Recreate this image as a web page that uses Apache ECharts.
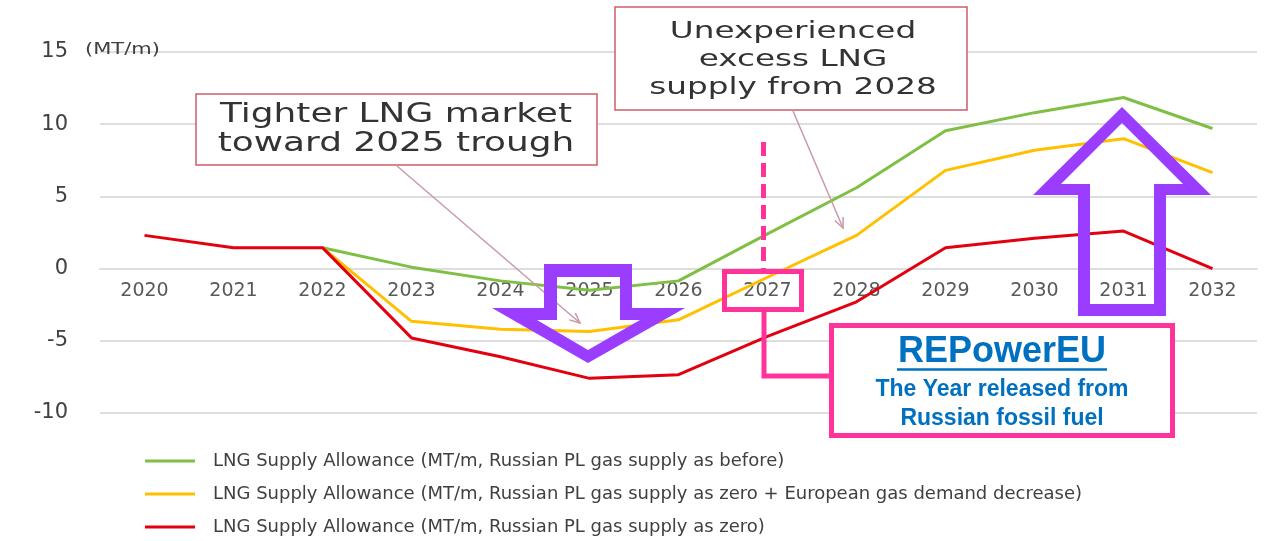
<!DOCTYPE html>
<html lang="en">
<head>
<meta charset="UTF-8">
<title>LNG Supply Allowance</title>
<style>
  html, body { margin: 0; height: 100%; overflow: hidden; background: #fff; }
  #main { width: 1273px; height: 541px; }
</style>
</head>
<body>
<div id="main"></div>
<script src="https://cdn.jsdelivr.net/npm/echarts@6/dist/echarts.min.js"></script>
<script>
// categories (years)
const years = ['2020', '2021', '2022', '2023', '2024', '2025', '2026', '2027', '2028', '2029', '2030', '2031', '2032'];
// MT/m
const asBefore = [null, null, 1.45, 0.1, -0.85, -1.5, -0.85, 2.4, 5.6, 9.55, 10.8, 11.85, 9.7];
const zeroPlusDecrease = [null, null, 1.45, -3.65, -4.2, -4.35, -3.55, -0.6, 2.3, 6.8, 8.2, 9.0, 6.65];
const zeroSupply = [2.3, 1.45, 1.45, -4.8, -6.1, -7.6, -7.35, -4.7, -2.3, 1.45, 2.1, 2.6, 0];
const seriesNames = [
  'LNG Supply Allowance (MT/m, Russian PL gas supply as before)',
  'LNG Supply Allowance (MT/m, Russian PL gas supply as zero + European gas demand decrease)',
  'LNG Supply Allowance (MT/m, Russian PL gas supply as zero)'
];
const yTicks = { min: -10, max: 15, interval: 5 };

const gridTop = 52, gridBottom = 128, chartH = 541;
const plotH = chartH - gridTop - gridBottom;
// move the category axis up to the zero line
const zeroOffset = (0 - yTicks.min) / (yTicks.max - yTicks.min) * plotH;

const pink = '#ff3399';
const purple = '#9b3dff';
const noteLine = '#c99aa3';

// small open arrow head at the end of a callout line
function arrowHead(x1, y1, x2, y2) {
  const a = Math.atan2(y2 - y1, x2 - x1), len = 11, sp = 0.42;
  return [
    [x2 - len * Math.cos(a - sp), y2 - len * Math.sin(a - sp)],
    [x2, y2],
    [x2 - len * Math.cos(a + sp), y2 - len * Math.sin(a + sp)]
  ];
}

// hollow block arrow: outer outline, then inner outline backwards (keyhole polygon)
function hollow(outer, inner) {
  const back = inner.slice(1).reverse();
  return outer.concat([outer[0], inner[0]], back, [inner[0]]);
}

var myChart = echarts.init(document.getElementById('main'));

var option = {
  animation: false,
  backgroundColor: '#fff',
  grid: { left: 100, right: 16, top: gridTop, bottom: gridBottom, containLabel: false },
  legend: {
    orient: 'vertical',
    left: 145,
    top: 451,
    padding: 0,
    icon: 'rect',
    itemWidth: 50,
    itemHeight: 3,
    itemGap: 13,
    textStyle: { fontFamily: 'DejaVu Sans', fontSize: 18, color: '#404040', lineHeight: 20, padding: [0, 0, 0, 13] },
    data: seriesNames
  },
  xAxis: {
    type: 'category',
    data: years,
    boundaryGap: true,
    offset: -zeroOffset,
    axisLine: { show: true, onZero: false, lineStyle: { color: '#dedede', width: 2 } },
    axisTick: { show: false },
    axisLabel: { fontFamily: 'DejaVu Sans', fontSize: 19, color: '#595959', margin: 13 }
  },
  yAxis: {
    type: 'value',
    min: yTicks.min,
    max: yTicks.max,
    interval: yTicks.interval,
    axisLine: { show: false },
    axisTick: { show: false },
    axisLabel: { fontFamily: 'DejaVu Sans', fontSize: 21, color: '#404040', margin: 32 },
    splitLine: { show: true, lineStyle: { color: '#dedede', width: 2 } }
  },
  series: [
    { name: seriesNames[0], type: 'line', data: asBefore, symbol: 'none', color: '#7fbf45', lineStyle: { width: 3 } },
    { name: seriesNames[1], type: 'line', data: zeroPlusDecrease, symbol: 'none', color: '#ffc000', lineStyle: { width: 3 } },
    { name: seriesNames[2], type: 'line', data: zeroSupply, symbol: 'none', color: '#e3000f', lineStyle: { width: 3 } }
  ],
  graphic: {
    elements: [
      // unit
      { type: 'text', x: 85, y: 50, scaleX: 1.4, z: 50,
        style: { text: '(MT/m)', font: '15px DejaVu Sans', fill: '#404040', align: 'left', verticalAlign: 'middle' } },

      // callout 1
      { type: 'rect', z: 50, shape: { x: 196, y: 94, width: 401, height: 71 },
        style: { fill: '#fff', stroke: '#d05c68', lineWidth: 1.5 } },
      { type: 'text', x: 396, y: 130, scaleX: 1.38, z: 51,
        style: { text: 'Tighter LNG market\ntoward 2025 trough', font: '26px DejaVu Sans', fill: '#333',
                 align: 'center', verticalAlign: 'middle', lineHeight: 29 } },
      { type: 'line', z: 52, shape: { x1: 397, y1: 166, x2: 580, y2: 323 }, style: { stroke: noteLine, lineWidth: 1.5 } },
      { type: 'polyline', z: 52, shape: { points: arrowHead(397, 166, 580, 323) }, style: { stroke: noteLine, lineWidth: 1.5, fill: null } },

      // callout 2
      { type: 'rect', z: 50, shape: { x: 615, y: 7, width: 352, height: 103 },
        style: { fill: '#fff', stroke: '#d05c68', lineWidth: 1.5 } },
      { type: 'text', x: 793, y: 60, scaleX: 1.42, z: 51,
        style: { text: 'Unexperienced\nexcess LNG\nsupply from 2028', font: '23px DejaVu Sans', fill: '#333',
                 align: 'center', verticalAlign: 'middle', lineHeight: 28 } },
      { type: 'line', z: 52, shape: { x1: 793, y1: 111, x2: 843, y2: 228 }, style: { stroke: noteLine, lineWidth: 1.5 } },
      { type: 'polyline', z: 52, shape: { points: arrowHead(793, 111, 843, 228) }, style: { stroke: noteLine, lineWidth: 1.5, fill: null } },

      // 2027 marker
      { type: 'line', z: 60, shape: { x1: 763.5, y1: 142, x2: 763.5, y2: 269 },
        style: { stroke: pink, lineWidth: 5, lineDash: [14, 7] } },
      { type: 'rect', z: 60, shape: { x: 724.5, y: 271.5, width: 77, height: 38 },
        style: { fill: null, stroke: pink, lineWidth: 5 } },
      { type: 'polyline', z: 60, shape: { points: [[764, 312], [764, 376], [832, 376]] },
        style: { fill: null, stroke: pink, lineWidth: 5 } },
      { type: 'rect', z: 60, shape: { x: 831.5, y: 325.5, width: 341, height: 110 },
        style: { fill: '#fff', stroke: pink, lineWidth: 5 } },
      { type: 'text', x: 1002, y: 352, z: 61,
        style: { text: 'REPowerEU', font: 'bold 36px Liberation Sans', fill: '#0070c0', align: 'center', verticalAlign: 'middle' } },
      { type: 'line', z: 61, shape: { x1: 897, y1: 369.5, x2: 1107, y2: 369.5 }, style: { stroke: '#0070c0', lineWidth: 2.5 } },
      { type: 'text', x: 1002, y: 404, z: 61,
        style: { text: 'The Year released from\nRussian fossil fuel', font: 'bold 23px Liberation Sans', fill: '#0070c0',
                 align: 'center', verticalAlign: 'middle', lineHeight: 29 } },

      // hollow purple arrows
      { type: 'polygon', z: 70,
        shape: { points: hollow(
          [[544, 264], [632, 264], [632, 308], [685, 308], [588, 363], [492, 308], [544, 308]],
          [[557, 277], [620, 277], [620, 320], [640, 320], [588, 350], [537, 320], [557, 320]]) },
        style: { fill: purple } },
      { type: 'polygon', z: 70,
        shape: { points: hollow(
          [[1122, 107], [1211, 195], [1166, 195], [1166, 316], [1078, 316], [1078, 195], [1033, 195]],
          [[1122, 123], [1183, 184], [1154, 184], [1154, 304], [1090, 304], [1090, 184], [1061, 184]]) },
        style: { fill: purple } }
    ]
  }
};

myChart.setOption(option);
</script>
</body>
</html>
